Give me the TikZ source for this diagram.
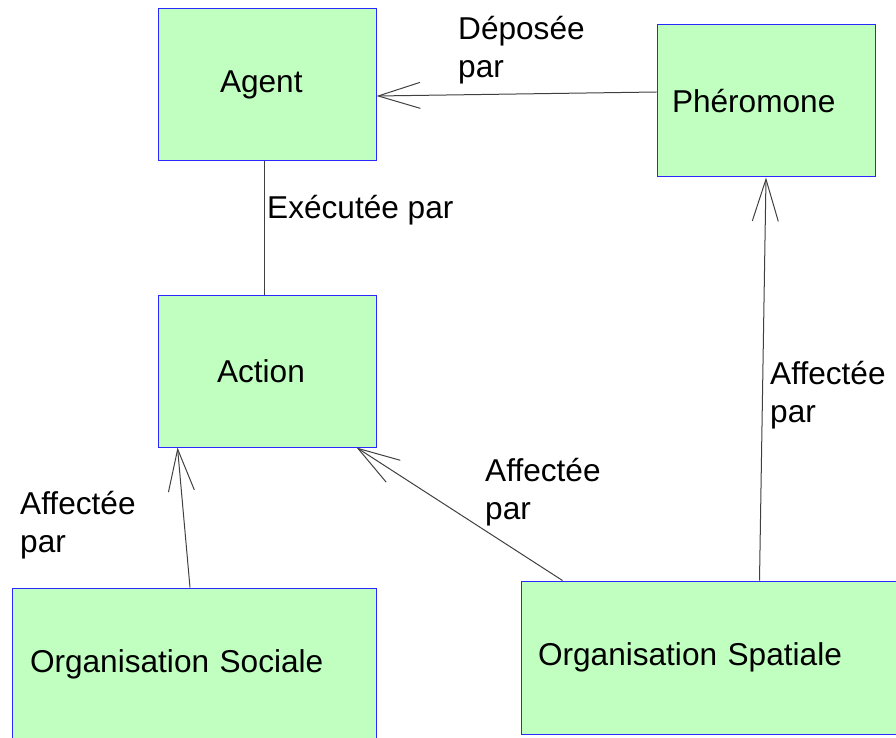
\documentclass[tikz,border=0pt]{standalone}
\usepackage{fontspec}
\setmainfont{Liberation Sans}
\usetikzlibrary{arrows.meta}
\definecolor{boxgreen}{RGB}{192,255,192}
\definecolor{boxblue}{RGB}{40,40,255}
\tikzstyle{every node}=[font=\fontsize{31.6}{38}\selectfont]
\tikzstyle{entity}=[rectangle, draw=boxblue, fill=boxgreen, line width=1pt, minimum width=218pt, minimum height=152pt, inner sep=0pt, align=left]
\tikzstyle{link}=[draw=black!75, line width=1pt]
\tikzstyle{tag}=[align=left, anchor=west, inner sep=0pt]

\begin{document}
\begin{tikzpicture}[x=1pt, y=-1pt, >={Straight Barb[length=42pt,width=26pt]}]
\useasboundingbox (0,0) rectangle (896,738);
\clip (0,0) rectangle (896,738);
% Boxes
    \node[entity, text width=94pt, inner xsep=62pt] (agent) at (267,85) {Agent};
    \node[entity, text width=100pt, inner xsep=59pt] (action) at (267,371) {Action};
    \node[entity, text width=188pt, inner xsep=15pt] (pher) at (766,101) {Phéromone};
    \node[entity, text width=328pt, inner xsep=18pt, minimum width=364pt] (soc) at (194,664) {Organisation Sociale};
    \node[entity, text width=346pt, inner xsep=17pt, minimum width=380pt, minimum height=153pt] (spat) at (711,657.5) {Organisation Spatiale};
% Links
    \draw[link,->] ([yshift=9pt]pher.west) -- ([yshift=-11pt]agent.east);
    \draw[link] ([xshift=-3pt]agent.south) -- ([xshift=-3pt]action.north);
    \draw[link,->] ([xshift=-4pt]soc.north) -- ([xshift=20pt]action.south west);
    \draw[link,->] ([xshift=42pt]spat.north west) -- ([xshift=-20pt]action.south east);
    \draw[link,->] ([xshift=239pt]spat.north west) -- (pher.south);
% Labels
    \node[tag] (deposee) at (458,50) {Déposée\\par};
    \node[tag] (executee) at (267,210) {Exécutée par};
    \node[tag] (affsoc) at (20,525) {Affectée\\par};
    \node[tag] (affact) at (485,492) {Affectée\\par};
    \node[tag] (affpher) at (770,395) {Affectée\\par};
\end{tikzpicture}
\end{document}
